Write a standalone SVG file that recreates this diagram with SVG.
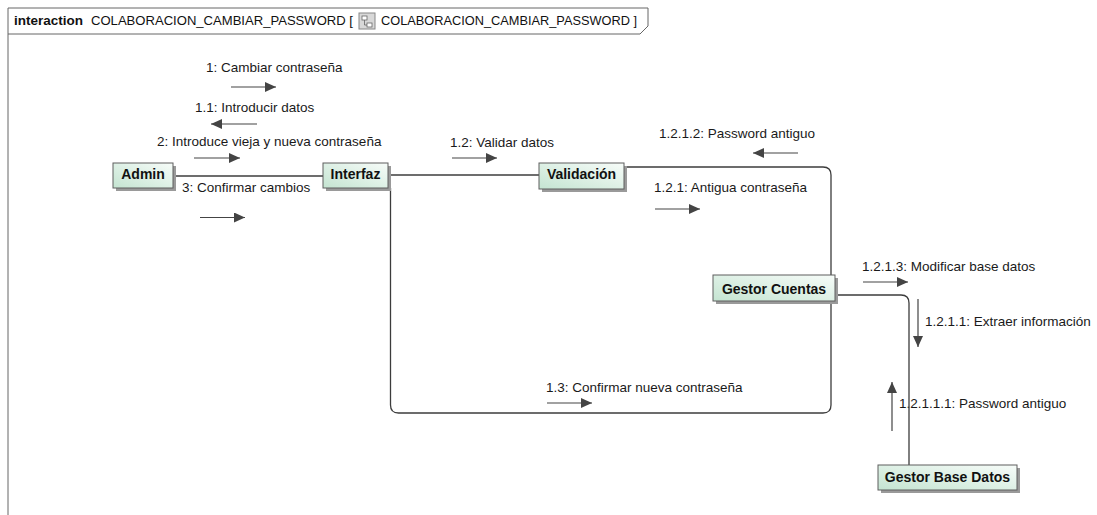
<svg xmlns="http://www.w3.org/2000/svg" width="1097" height="515" viewBox="0 0 1097 515">
<style>
.msg{font-family:"Liberation Sans",Arial,sans-serif;font-size:13.5px;fill:#1a1a1a}
.nm{font-family:"Liberation Sans",Arial,sans-serif;font-size:14px;font-weight:bold;fill:#111;text-anchor:middle}
.hdr{font-family:"Liberation Sans",Arial,sans-serif;font-size:13px;fill:#111}
.hdrb{font-family:"Liberation Sans",Arial,sans-serif;font-size:13.5px;font-weight:bold;fill:#111}
.box{fill:url(#g);stroke:#5e5e5e;stroke-width:1}
.sh{fill:#9a9a9a}
.cn{fill:none;stroke:#3c3c3c;stroke-width:1.3}
.ar{fill:none;stroke:#444;stroke-width:1.2;marker-end:url(#ah)}
</style>
<defs>
<linearGradient id="g" x1="0" y1="1" x2="1" y2="0">
<stop offset="0" stop-color="#c4e4d1"/>
<stop offset="1" stop-color="#f7fcf9"/>
</linearGradient>
<marker id="ah" markerUnits="userSpaceOnUse" markerWidth="12" markerHeight="10" refX="11" refY="5" orient="auto">
<path d="M0,0 L11,5 L0,10 Z" fill="#444"/>
</marker>
</defs>
<rect width="1097" height="515" fill="#fff"/>
<g id="frame">
<path d="M8,515 V8 H648 V26 L640,34 H8" fill="none" stroke="#666" stroke-width="1"/>
<text class="hdrb" x="14" y="25">interaction</text>
<text class="hdr" x="91" y="25" textLength="262" lengthAdjust="spacingAndGlyphs">COLABORACION_CAMBIAR_PASSWORD [</text>
<g>
<rect x="359" y="13" width="16" height="16" fill="#d8d8d8" stroke="#888" stroke-width="1"/>
<rect x="362" y="16" width="5" height="4" fill="#fff" stroke="#666" stroke-width="0.8"/>
<rect x="367" y="23" width="5" height="4" fill="#fff" stroke="#666" stroke-width="0.8"/>
<path d="M364.5,20 V25 H367" fill="none" stroke="#666" stroke-width="0.8"/>
</g>
<text class="hdr" x="381" y="25" textLength="256" lengthAdjust="spacingAndGlyphs">COLABORACION_CAMBIAR_PASSWORD ]</text>
</g>
<g id="labels">
<text class="msg" x="206" y="71.5">1: Cambiar contraseña</text>
<text class="msg" x="195" y="112">1.1: Introducir datos</text>
<text class="msg" x="157" y="145.5">2: Introduce vieja y nueva contraseña</text>
<text class="msg" x="182" y="191.5">3: Confirmar cambios</text>
<text class="msg" x="450" y="147">1.2: Validar datos</text>
<text class="msg" x="659" y="138">1.2.1.2: Password antiguo</text>
<text class="msg" x="654" y="191.5">1.2.1: Antigua contraseña</text>
<text class="msg" x="862" y="270.5">1.2.1.3: Modificar base datos</text>
<text class="msg" x="925" y="325.5">1.2.1.1: Extraer información</text>
<text class="msg" x="899" y="408">1.2.1.1.1: Password antiguo</text>
<text class="msg" x="546" y="392">1.3: Confirmar nueva contraseña</text>
</g>
<g id="messages">
<line class="ar" x1="231" y1="87" x2="276" y2="87"/>
<line class="ar" x1="257" y1="124" x2="211" y2="124"/>
<line class="ar" x1="194" y1="158" x2="240" y2="158"/>
<line class="ar" x1="200" y1="217.5" x2="245" y2="217.5"/>
<line class="ar" x1="452" y1="158" x2="497" y2="158"/>
<line class="ar" x1="798" y1="153" x2="753" y2="153"/>
<line class="ar" x1="655" y1="209" x2="700" y2="209"/>
<line class="ar" x1="863" y1="282" x2="908" y2="282"/>
<line class="ar" x1="918" y1="299" x2="918" y2="347"/>
<line class="ar" x1="892" y1="431" x2="892" y2="382"/>
<line class="ar" x1="547" y1="403" x2="592" y2="403"/>
</g>
<g id="connectors">
<path class="cn" d="M173,176 H323"/>
<path class="cn" d="M388,175 H539"/>
<path class="cn" d="M624,167 H823 Q831,167 831,175 V275"/>
<path class="cn" d="M390.5,188 V405 Q390.5,413 398.5,413 H823 Q831,413 831,405 V301"/>
<path class="cn" d="M835,295 H901 Q909,295 909,303 V465"/>
</g>
<g id="admin">
<rect class="sh" x="116" y="166" width="60" height="25"/>
<rect class="box" x="113" y="163" width="60" height="25"/>
<text class="nm" x="143" y="179">Admin</text>
</g>
<g id="interfaz">
<rect class="sh" x="326" y="166" width="65" height="25"/>
<rect class="box" x="323" y="163" width="65" height="25"/>
<text class="nm" x="355.5" y="179">Interfaz</text>
</g>
<g id="validacion">
<rect class="sh" x="542" y="166" width="85" height="26"/>
<rect class="box" x="539" y="163" width="85" height="26"/>
<text class="nm" x="581.5" y="178.5">Validación</text>
</g>
<g id="gestor-cuentas">
<rect class="sh" x="716" y="278" width="122" height="26"/>
<rect class="box" x="713" y="275" width="122" height="26"/>
<text class="nm" x="774" y="293.5">Gestor Cuentas</text>
</g>
<g id="gestor-base-datos">
<rect class="sh" x="881" y="468" width="139" height="25"/>
<rect class="box" x="878" y="465" width="139" height="25"/>
<text class="nm" x="947.5" y="482">Gestor Base Datos</text>
</g>
</svg>
